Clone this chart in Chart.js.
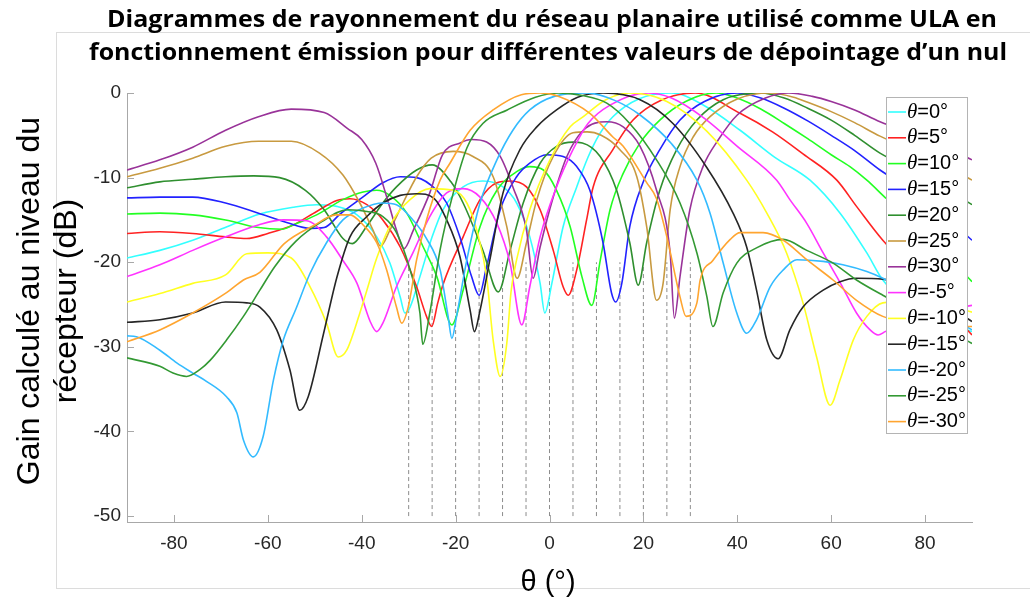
<!DOCTYPE html>
<html lang="fr">
<head>
<meta charset="utf-8">
<title>Diagrammes de rayonnement</title>
<script src="https://cdn.jsdelivr.net/npm/chart.js@4.4.1/dist/chart.umd.min.js"></script>
<style>
  html, body { margin: 0; padding: 0; background: #fff; }
  #chart { display: block; }
</style>
</head>
<body>
<canvas id="chart" width="1030" height="604"></canvas>
<script>
// steering angle of the null for each curve, in legend order
const steerAngles = [0, 5, 10, 15, 20, 25, 30, -5, -10, -15, -20, -25, -30];
const lineColors = ['#33ffff', '#ff2222', '#22ff22', '#2222ff', '#2f8f2f', '#c89a40', '#993399',
                    '#ff33ff', '#ffff22', '#262626', '#33bbff', '#339933', '#ffa530'];

const xTicks = [-80, -60, -40, -20, 0, 20, 40, 60, 80];
const yTicks = [0, -10, -20, -30, -40, -50];
// dashed markers at the wanted null positions
const nullAngles = [-30, -25, -20, -15, -10, -5, 0, 5, 10, 15, 20, 25, 30];
const nullSpan = [-50, -20];

// [angle (deg), gain (dB)]
const g0 = [[-90,-19.5],[-83,-18.6],[-76,-17.4],[-68.7,-15.8],[-61.7,-14.3],[-54.6,-13.5],[-49.6,-13.2],[-45.3,-13.4],[-41,-14.4],[-36.8,-17],[-34,-20.1],[-31.8,-24.1],[-30.8,-26],[-29.7,-25.3],[-27.6,-21.7],[-25,-17],[-22.7,-13.8],[-18.4,-11.1],[-14.2,-10.4],[-9.9,-11.1],[-7,-13],[-4.2,-17],[-2,-22.5],[-1,-26],[0.5,-22.5],[2.9,-15.8],[5.8,-11.1],[8.2,-7.6],[10.5,-5],[13.5,-2.8],[19,-0.7],[26,0],[33,-1.5],[40.6,-4.4],[48,-7.6],[55.5,-10.3],[61.9,-14.2],[67.6,-18.9],[71,-22.1],[80,-26.3],[90,-28.2]];
const g5 = [[-90,-16.6],[-83,-16.4],[-76,-16.6],[-69,-17],[-64.5,-17.2],[-60,-16.6],[-54.6,-15.6],[-49.6,-14],[-45.3,-12.7],[-42.5,-12.5],[-38.9,-13.2],[-35.5,-15],[-31.8,-18.2],[-28.3,-22.9],[-26.2,-26.4],[-25.1,-27.6],[-23.8,-24.8],[-22.6,-22.5],[-18.4,-17],[-14.8,-12.6],[-11.2,-10.6],[-8.4,-10.4],[-4.9,-11.1],[-2,-13.8],[0.8,-18.6],[2.9,-22.9],[4,-23.9],[5.8,-20.9],[7.9,-15],[9.3,-11.1],[13.5,-6.7],[17.8,-3.2],[24,-0.8],[31,0],[40.6,-2.4],[47.5,-4.6],[54,-7.2],[61.2,-10.3],[65.4,-13.4],[71,-17.4],[80,-22.5],[90,-28.6]];
const g10 = [[-90,-14.3],[-83,-14.2],[-76,-14.4],[-69,-15],[-62,-15.9],[-57,-16.1],[-54.6,-15.6],[-49.6,-14.4],[-44,-12.6],[-39.7,-11.7],[-36.8,-11.5],[-34,-12.1],[-30.4,-14.2],[-26.9,-18.2],[-24,-21.7],[-20.8,-27.4],[-18.4,-23.3],[-14.8,-15.8],[-11.2,-11.5],[-7,-9.3],[-4.2,-8.7],[-1.3,-9.1],[1.5,-11.5],[4.4,-15.8],[6.9,-21.7],[9,-25.1],[10.8,-19.8],[12.9,-13.8],[15.7,-9.5],[19.3,-5.9],[23.5,-3.2],[29,-1],[35.5,0],[40,-0.6],[45,-1.9],[50,-3.6],[55,-5.4],[60,-7.3],[64,-8.7],[67.6,-10.3],[71.8,-12.5],[80,-16.5],[90,-22.3]];
const g15 = [[-90,-12.4],[-83,-12.3],[-76,-12.3],[-69,-13],[-62,-14.2],[-56,-15.3],[-51,-16],[-48,-15.9],[-44.6,-14.3],[-40,-12.4],[-35.5,-10.6],[-31.8,-9.9],[-28.3,-10],[-24,-11.5],[-21.9,-13],[-19.1,-17],[-16.6,-21.7],[-15,-23.9],[-13.4,-20.5],[-10.5,-13.8],[-7,-9.9],[-4.2,-8.3],[-0.6,-7.3],[2.9,-7.5],[5.8,-8.7],[8.6,-11.5],[11.4,-17.7],[13.2,-23.6],[14.1,-24.7],[15.4,-22.5],[17.1,-15.8],[19.9,-10.6],[23.5,-6.7],[27.8,-3.2],[33,-1],[40,0],[45,-0.6],[50,-1.8],[55,-3.3],[60,-5],[65,-6.8],[70.4,-9.1],[80,-12.5],[90,-17.4]];
const g20 = [[-90,-11.2],[-83,-10.5],[-76,-10.2],[-69,-9.9],[-63,-9.8],[-57.5,-10],[-52,-11.5],[-48,-13.8],[-44,-17.2],[-42,-17.8],[-39,-15.8],[-35.5,-13],[-32.6,-11.1],[-28.3,-9.1],[-25,-8.5],[-21,-10.5],[-18.4,-13],[-14.2,-18.6],[-10.9,-23.5],[-8.4,-18.6],[-5.6,-13],[-2,-8.3],[1.5,-6.3],[5,-5.8],[7,-5.9],[10.8,-7.5],[14.3,-11.5],[17.1,-17.7],[18.9,-22.7],[20.7,-17.7],[23.5,-11.5],[27.1,-6.7],[31.4,-3.2],[37,-0.8],[45,0],[50,-0.6],[55,-1.8],[60,-3.2],[65,-5],[70.4,-7.1],[80,-9.8],[90,-13.2]];
const g25 = [[-90,-9.9],[-83,-8.9],[-76,-7.7],[-69,-6.3],[-62,-5.7],[-55,-5.7],[-49,-7.1],[-44,-9.7],[-40.4,-13],[-37.6,-16.2],[-36,-18.1],[-34,-16.2],[-31.2,-13],[-28.3,-9.9],[-25.2,-7.7],[-20.5,-6.9],[-16.3,-7.5],[-12,-9.9],[-9.1,-15.8],[-6.9,-21.9],[-4.9,-17.7],[-2.7,-12.6],[0.8,-7.5],[5,-4.7],[8,-4.6],[11,-5],[15,-6.7],[18.6,-9.9],[20.7,-15.8],[22.8,-24.5],[24.2,-22.5],[25.7,-13.8],[27.8,-8.7],[30.6,-5.2],[34.2,-2.8],[40,-0.7],[47,0],[52,-0.5],[55,-1.1],[60,-2.2],[65,-3.5],[70.4,-5.1],[80,-7.4],[90,-10.3]];
const g30 = [[-90,-9.1],[-83,-7.9],[-76,-6.4],[-69,-4.4],[-62,-2.8],[-55,-1.9],[-48,-2.3],[-43,-4.2],[-40,-5.5],[-37,-8.3],[-34.3,-13],[-32.6,-16.2],[-31,-18.4],[-29,-16.2],[-25.5,-11.8],[-22.8,-7.3],[-19,-5.9],[-16.6,-5.5],[-13.4,-5.8],[-10.5,-7.5],[-7.8,-11.1],[-4.9,-16.2],[-3.5,-21.9],[-2,-18.2],[0.8,-12.3],[3.7,-7.5],[7.2,-4.4],[12.2,-3.4],[15.7,-4],[19.3,-6.3],[22.8,-11.5],[25.7,-18.9],[26.6,-26.6],[27.8,-21.7],[29.9,-13.8],[32.7,-8.7],[36,-5.5],[40,-2.6],[46,-0.6],[51,0],[56,-0.4],[60,-1],[65,-2],[70.4,-3.4],[80,-5.3],[90,-7.9]];
const gm5 = [[-90,-21.7],[-83,-20.3],[-76,-18.6],[-69,-17],[-62,-15.6],[-56.7,-15],[-51.7,-15.1],[-47.5,-17],[-44,-19.8],[-41,-22.5],[-38.2,-27],[-36.8,-28.2],[-35.5,-27.2],[-32.6,-22.9],[-29.1,-18.9],[-25.5,-14.6],[-21.9,-11.8],[-18.4,-11.3],[-14.8,-12.3],[-11.2,-15.4],[-8.4,-20.1],[-5.9,-27.4],[-4.2,-22.9],[-2,-17],[1.5,-11.1],[5,-6.7],[8.2,-3.6],[13,-1.4],[21,0],[26,-0.6],[33,-3],[40,-6.3],[48.4,-10.3],[51.2,-12.6],[54.8,-15.4],[58.3,-18.9],[62,-22.5],[65.4,-26],[68.3,-28],[70,-28.6],[71.5,-28.2],[80,-26.2],[90,-25.1]];
const gm10 = [[-90,-24.7],[-83,-23.7],[-76,-22.5],[-69,-21.5],[-64.5,-19],[-60,-18.9],[-55,-19.5],[-51,-22.9],[-47.5,-27.2],[-45,-31.2],[-43.2,-30.4],[-40.4,-26],[-38.9,-23.3],[-36.8,-19.5],[-33.3,-15],[-29.7,-12.6],[-25.5,-11.3],[-20.5,-11.5],[-17.6,-13],[-15.5,-16.2],[-13.4,-21.7],[-12,-29.2],[-10.5,-33.5],[-9.1,-29.6],[-8.2,-23.5],[-7,-19.7],[-4.2,-13.8],[0.1,-7.9],[4.4,-4],[7.2,-2.8],[12,-0.8],[17,0],[25,-1],[33.5,-4.5],[42,-10.3],[46.3,-14.2],[50.5,-18.9],[54,-24.8],[56.9,-31.2],[59.8,-36.9],[61.9,-33.9],[64.7,-29.2],[67.6,-26.4],[71,-24.8],[80,-24.5],[90,-25.9]];
const gm15 = [[-90,-27.1],[-83,-26.8],[-76,-26],[-69,-24.7],[-64.5,-24.8],[-61.7,-25.3],[-58.1,-28],[-55.3,-32.7],[-53.2,-37.5],[-51.4,-35.9],[-48.2,-28.6],[-45.3,-21.8],[-42.5,-17],[-38.9,-14.6],[-35.5,-13],[-31.8,-12.1],[-28.3,-11.9],[-24.5,-12.5],[-21.9,-15],[-19.1,-19.3],[-16.9,-25.7],[-16,-28.2],[-14.8,-25.7],[-12.7,-19.7],[-9.9,-11.8],[-6.3,-6.7],[-2.7,-4],[1.5,-2],[6,-0.5],[11.4,0],[19.3,-0.8],[26.3,-3.6],[33.5,-8.8],[39.1,-14.2],[42,-18.2],[44.1,-23.3],[46.3,-29.2],[48.7,-31.4],[51.2,-28],[54,-25.3],[58.3,-23.3],[61.9,-22.3],[65.4,-21.9],[71,-22],[80,-23.5],[90,-27]];
const gm20 = [[-90,-28.7],[-88,-28.8],[-83,-30.4],[-79.4,-31.9],[-76,-33.1],[-73,-34.1],[-68.8,-35.9],[-66.6,-37.8],[-65.2,-41],[-63.1,-43],[-61,-40.6],[-58.8,-33.9],[-56.7,-29.2],[-54,-25.5],[-51,-21.3],[-47.5,-17.7],[-44,-15],[-39.7,-13.6],[-35.5,-13],[-32.6,-13.2],[-29.1,-15],[-26.2,-17.2],[-23.3,-20.9],[-21.6,-26.4],[-20.8,-29],[-19.8,-26.4],[-17.6,-19.7],[-14.8,-13],[-11.2,-7.9],[-7.8,-4.4],[-4.2,-2],[1,-0.4],[8,0],[14,-0.9],[19.3,-2.6],[26,-6],[31.4,-10.3],[34.2,-14.2],[37,-20.1],[39.9,-26],[42,-28.4],[44.1,-26.8],[47,-22.9],[49.8,-20.9],[52.7,-19.7],[58.3,-19.9],[62.5,-20.3],[67.6,-21.1],[71,-21.9],[80,-24.8],[90,-28]];
const gm25 = [[-90,-31.3],[-83,-32.3],[-80.2,-33.1],[-77.3,-33.5],[-74.5,-32.7],[-72.3,-31.6],[-68.8,-29.2],[-65.2,-26.4],[-61.7,-23.3],[-58.5,-20.5],[-54,-17.5],[-48.5,-15.2],[-43,-13.8],[-38.9,-14],[-35.5,-14.6],[-32.6,-16.5],[-29.7,-20.9],[-27.6,-26],[-27,-29.7],[-25.5,-26],[-23.3,-18.5],[-20.5,-11.8],[-17.6,-6.5],[-14.2,-3.6],[-9,-2],[-3,-0.5],[2,0],[7,-0.3],[12.2,-1.2],[17.1,-3.6],[22.8,-7.9],[27.8,-13],[31.4,-18.9],[33.5,-24],[34.8,-27.6],[37,-23.6],[39.9,-20.1],[44.1,-18.3],[49.8,-17.3],[54.8,-18.6],[60.4,-20.1],[65.4,-22.1],[71,-23.9],[80,-26.5],[90,-29.6]];
const gm30 = [[-90,-29.4],[-83,-28],[-76,-26],[-68.8,-23.6],[-65.2,-22.1],[-61.7,-21.2],[-56.5,-17.8],[-50,-15.6],[-45.5,-14.4],[-42.5,-14.4],[-39.7,-15.6],[-36.8,-17.7],[-34.7,-20.9],[-32.6,-25.3],[-31.5,-27.2],[-30.1,-25.3],[-28.3,-19.7],[-26.2,-15],[-23.3,-10.3],[-21.2,-8.3],[-16.9,-4.4],[-12,-2],[-6,-0.2],[-2,0],[2,-0.4],[8.6,-2.4],[13.5,-5.2],[15.7,-6.3],[20.7,-10.6],[22.8,-12.5],[25,-17],[27.8,-24.1],[29.1,-26.4],[31.4,-24.8],[32.1,-22.1],[34.8,-19.8],[38.5,-17.3],[40.6,-16.5],[45.5,-16.5],[49.8,-17.4],[54.8,-19.7],[60.4,-22.1],[65.4,-24.5],[71,-26.4],[80,-27.5],[90,-27.6]];

const curves = [g0, g5, g10, g15, g20, g25, g30, gm5, gm10, gm15, gm20, gm25, gm30];

const axisColor = '#a8a8a8';
const labelColor = '#262626';
const yMin = -50.7;

const datasets = curves.map((pts, i) => ({
  label: 'θ=' + steerAngles[i] + '°',
  data: pts.map(p => ({ x: p[0], y: p[1] })),
  borderColor: lineColors[i],
  borderWidth: 1.6,
  pointRadius: 0,
  cubicInterpolationMode: 'monotone',
  order: curves.length - i
}));

nullAngles.forEach(a => {
  datasets.push({
    label: '',
    data: [{ x: a, y: nullSpan[0] }, { x: a, y: nullSpan[1] }],
    borderColor: '#8c8c8c',
    borderWidth: 1,
    borderDash: [4, 3],
    pointRadius: 0,
    order: 50
  });
});

function fitText(ctx, text, x, y, width, font) {
  ctx.save();
  ctx.font = font;
  const w = ctx.measureText(text).width;
  ctx.translate(x, y);
  ctx.scale(width / w, 1);
  ctx.textAlign = 'center';
  ctx.fillText(text, 0, 0);
  ctx.restore();
}

const decor = {
  id: 'decor',
  beforeDraw(chart) {
    const ctx = chart.ctx;
    ctx.save();
    ctx.fillStyle = '#fff';
    ctx.fillRect(0, 0, chart.width, chart.height);
    ctx.strokeStyle = '#dcdcdc';
    ctx.lineWidth = 1;
    ctx.strokeRect(56.5, 32.5, 1000, 556);
    ctx.restore();
  },
  afterDatasetsDraw(chart) {
    const ctx = chart.ctx;
    const xs = chart.scales.x, ys = chart.scales.y;
    const a = chart.chartArea;
    ctx.save();
    ctx.strokeStyle = axisColor;
    ctx.lineWidth = 1;
    ctx.beginPath();
    xTicks.forEach(v => {
      const px = Math.round(xs.getPixelForValue(v)) + 0.5;
      ctx.moveTo(px, a.bottom);
      ctx.lineTo(px, a.bottom - 7);
    });
    yTicks.forEach(v => {
      const py = Math.round(ys.getPixelForValue(v)) + 0.5;
      ctx.moveTo(a.left, py);
      ctx.lineTo(a.left + 7, py);
    });
    ctx.stroke();
    ctx.restore();
  },
  afterDraw(chart) {
    const ctx = chart.ctx;
    ctx.save();
    // title
    ctx.fillStyle = '#000';
    ctx.textBaseline = 'alphabetic';
    fitText(ctx, 'Diagrammes de rayonnement du réseau planaire utilisé comme ULA en', 552, 27, 890, 'bold 24px "Open Sans"');
    fitText(ctx, 'fonctionnement émission pour différentes valeurs de dépointage d’un nul', 548, 60, 918, 'bold 24px "Open Sans"');

    // axis titles
    ctx.textAlign = 'center';
    ctx.textBaseline = 'middle';
    ctx.font = '29px "Liberation Sans"';
    ctx.fillText('θ (°)', 548, 583);
    ctx.save();
    ctx.font = '32px "Liberation Sans"';
    ctx.translate(30, 301);
    ctx.rotate(-Math.PI / 2);
    ctx.fillText('Gain calculé au niveau du', 0, 0);
    ctx.fillText('récepteur (dB)', 0, 37);
    ctx.restore();

    // legend box
    const bx = 886, by = 97, bw = 81, bh = 336;
    ctx.fillStyle = '#fff';
    ctx.fillRect(bx, by, bw, bh);
    ctx.strokeStyle = '#b4b4b4';
    ctx.lineWidth = 1;
    ctx.strokeRect(bx + 0.5, by + 0.5, bw, bh);
    ctx.textAlign = 'left';
    ctx.textBaseline = 'middle';
    steerAngles.forEach((ang, i) => {
      const y = 112 + i * 25.8;
      ctx.strokeStyle = lineColors[i];
      ctx.lineWidth = 1.6;
      ctx.beginPath();
      ctx.moveTo(888, y);
      ctx.lineTo(906, y);
      ctx.stroke();
      ctx.fillStyle = '#000';
      ctx.font = 'italic 21px "Liberation Serif"';
      ctx.fillText('θ', 907, y);
      const tw = ctx.measureText('θ').width;
      ctx.font = '20px "Liberation Sans"';
      ctx.fillText('=' + ang + '°', 907 + tw, y);
    });
    ctx.restore();
  }
};

new Chart(document.getElementById('chart'), {
  type: 'line',
  data: { datasets: datasets },
  options: {
    responsive: false,
    animation: false,
    layout: { padding: { left: 0, top: 93, right: 58, bottom: 0 } },
    plugins: {
      legend: { display: false },
      title: { display: false },
      tooltip: { enabled: false }
    },
    scales: {
      x: {
        type: 'linear',
        min: -90,
        max: 90,
        afterBuildTicks: s => { s.ticks = xTicks.map(v => ({ value: v })); },
        afterFit: s => { s.height = 82; },
        grid: { display: false, drawTicks: false },
        border: { display: true, color: axisColor, width: 1 },
        ticks: {
          font: { family: 'Liberation Sans', size: 19 },
          color: labelColor,
          padding: 10,
          maxRotation: 0,
          autoSkip: false
        }
      },
      y: {
        type: 'linear',
        min: yMin,
        max: 0,
        afterBuildTicks: s => { s.ticks = yTicks.map(v => ({ value: v })); },
        afterFit: s => { s.width = 127; },
        grid: { display: false, drawTicks: false },
        border: { display: true, color: axisColor, width: 1 },
        ticks: {
          font: { family: 'Liberation Sans', size: 19 },
          color: labelColor,
          padding: 6
        }
      }
    }
  },
  plugins: [decor]
});
</script>
</body>
</html>
